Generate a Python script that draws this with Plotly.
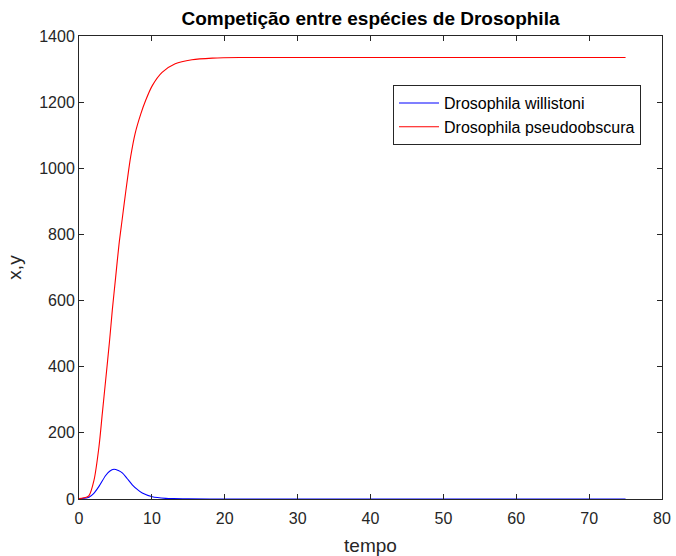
import plotly.graph_objects as go

# time points (tempo) and population values
t_red = [0, 1, 1.37, 2.06, 2.74, 3.2, 3.66, 4.2, 4.57, 5.03, 5.49, 5.94, 6.2, 6.63, 7.09, 7.7, 8.46, 9.14, 10.06, 11.4, 13.2, 15.5, 18.3, 22, 30, 40, 50, 60, 75]
pseudoobscura = [1, 5, 10, 57, 158, 259, 360, 480, 571, 671, 770, 848, 893, 965, 1035, 1105, 1163, 1205, 1250, 1290, 1316, 1328, 1333, 1335, 1335, 1335, 1335, 1335, 1335]

t_blue = [0, 1, 1.37, 2, 2.74, 3.66, 4.2, 4.8, 5.4, 5.94, 6.6, 7.31, 8, 8.68, 10.06, 11.9, 13, 15, 20, 30, 40, 50, 60, 75]
willistoni = [1, 3, 5, 16, 38, 71, 84, 90, 86, 79, 62, 43, 29, 18, 7, 2, 1, 0.3, 0, 0, 0, 0, 0, 0]

title = "Competição entre espécies de Drosophila"
names = ["Drosophila willistoni", "Drosophila pseudoobscura"]

x_ticks = [0, 10, 20, 30, 40, 50, 60, 70, 80]
y_ticks = [0, 200, 400, 600, 800, 1000, 1200, 1400]

FONT = "Liberation Sans, Arial, sans-serif"
axcol = "#262626"
fig = go.Figure()
fig.add_trace(go.Scatter(x=t_blue, y=willistoni, mode="lines", name=names[0],
                         line=dict(color="#0000ff", width=1.1, shape="spline", smoothing=0.8)))
fig.add_trace(go.Scatter(x=t_red, y=pseudoobscura, mode="lines", name=names[1],
                         line=dict(color="#ff0000", width=1.1, shape="spline", smoothing=0.8)))

axis_common = dict(showgrid=False, zeroline=False, showline=True, linecolor=axcol, linewidth=1,
                   mirror="ticks", ticks="inside", ticklen=5, tickcolor=axcol, automargin=False,
                   tickfont=dict(family=FONT, size=16, color=axcol))

fig.update_layout(
    width=676, height=556,
    paper_bgcolor="white", plot_bgcolor="white",
    margin=dict(l=79, r=14, t=36, b=57),
    title=dict(text="<b>" + title + "</b>", x=(79 + 662) / 2 / 676, xanchor="center",
               y=1 - 18 / 556, yanchor="middle",
               font=dict(family=FONT, size=19, color="black")),
    xaxis=dict(range=[0, 80], tickvals=x_ticks, ticklabelstandoff=5,
               title=dict(text="tempo", standoff=14, font=dict(family=FONT, size=19, color=axcol)),
               **axis_common),
    yaxis=dict(range=[0, 1400], tickvals=y_ticks,
               title=dict(text="x,y", standoff=12, font=dict(family=FONT, size=19, color=axcol)),
               **axis_common),
    legend=dict(x=0.964, y=0.894, xanchor="right", yanchor="top",
                bordercolor=axcol, borderwidth=1, bgcolor="white",
                font=dict(family=FONT, size=16, color="black"),
                tracegroupgap=0, itemwidth=40),
    showlegend=True,
)

fig.write_html("out.html", config={"displayModeBar": False},
               post_script="document.body.style.margin='0';")
